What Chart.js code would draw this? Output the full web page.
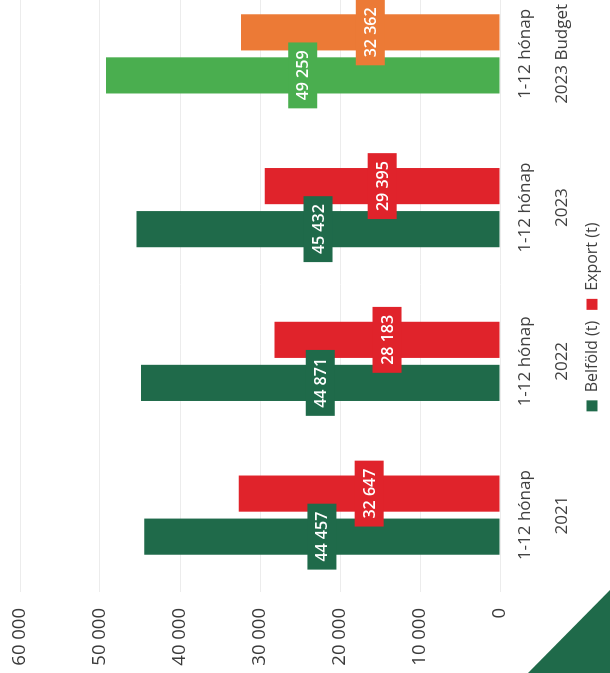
<!DOCTYPE html>
<html>
<head>
<meta charset="utf-8">
<script src="https://cdn.jsdelivr.net/npm/chart.js@4/dist/chart.umd.min.js"></script>
<style>
  html, body { margin: 0; padding: 0; background: #fff; overflow: hidden; }
  body { width: 610px; height: 673px; position: relative; }
  #wrap {
    position: absolute; left: 0; top: 673px;
    width: 700px; height: 610px;
    transform-origin: 0 0;
    transform: rotate(-90deg);
  }
  #corner {
    position: absolute; left: 528px; top: 590px; width: 82px; height: 83px;
    background: #1f6a4a;
    clip-path: polygon(100% 0, 100% 100%, 0 100%);
  }
</style>
</head>
<body>
<div id="wrap"><canvas id="myChart" width="700" height="610"></canvas></div>
<div id="corner"></div>
<script>
const categories = [
    ['1-12 hónap', '2021'],
    ['1-12 hónap', '2022'],
    ['1-12 hónap', '2023'],
    ['1-12 hónap', '2023 Budget']
];
const belfoldValues = [44457, 44871, 45432, 49259];
const exportValues = [32647, 28183, 29395, 32362];
const yTicks = [0, 10000, 20000, 30000, 40000, 50000, 60000];

const belfoldColors = ['#1f6a4a', '#1f6a4a', '#1f6a4a', '#4aae4f'];
const exportColors = ['#e0232b', '#e0232b', '#e0232b', '#ec7a36'];

function fmt(v) {
    return String(v).replace(/\B(?=(\d{3})+(?!\d))/g, ' ');
}

// value boxes in the middle of each bar
const barLabels = {
    id: 'barLabels',
    afterLayout(chart) {
        // legend sits a bit off the canvas centre
        chart.legend.left += 16;
    },
    afterDatasetsDraw(chart) {
        const c = chart.ctx;
        c.save();
        c.font = '600 16px "Open Sans"';
        c.textAlign = 'center';
        c.textBaseline = 'middle';
        chart.data.datasets.forEach((ds, i) => {
            chart.getDatasetMeta(i).data.forEach((bar, j) => {
                const text = fmt(ds.data[j]);
                const w = c.measureText(text).width + 16;
                const h = 29;
                const cy = (bar.y + bar.base) / 2;
                c.fillStyle = ds.backgroundColor[j];
                c.fillRect(bar.x - w / 2, cy - h / 2, w, h);
                c.fillStyle = '#ffffff';
                c.fillText(text, bar.x, cy + 1);
            });
        });
        c.restore();
    }
};

const ctx = document.getElementById('myChart');

new Chart(ctx, {
    type: 'bar',
    data: {
        labels: categories,
        datasets: [{
            label: 'Belföld (t)',
            data: belfoldValues,
            backgroundColor: belfoldColors,
            categoryPercentage: 0.56,
            barPercentage: 0.84
        }, {
            label: 'Export (t)',
            data: exportValues,
            backgroundColor: exportColors,
            categoryPercentage: 0.56,
            barPercentage: 0.84
        }]
    },
    options: {
        responsive: false,
        animation: false,
        layout: {
            padding: {left: 0, right: 4, top: 20, bottom: 0}
        },
        plugins: {
            tooltip: {enabled: false},
            legend: {
                position: 'bottom',
                labels: {
                    boxWidth: 11,
                    boxHeight: 11,
                    padding: 11,
                    color: '#404040',
                    font: {family: '"Open Sans"', size: 16}
                }
            }
        },
        scales: {
            x: {
                grid: {display: false, drawTicks: false},
                border: {display: false},
                ticks: {
                    color: '#404040',
                    padding: 7,
                    font: {family: '"Open Sans"', size: 17, lineHeight: 2.18}
                },
                afterFit: function (scale) {
                    scale.height = 73;
                }
            },
            y: {
                min: 0,
                max: 60000,
                afterBuildTicks: function (scale) {
                    scale.ticks = yTicks.map(v => ({value: v}));
                },
                grid: {color: '#ececec', drawTicks: false},
                border: {display: false},
                ticks: {
                    color: '#3a3a3a',
                    padding: 16,
                    font: {family: '"Open Sans"', size: 18.5},
                    callback: function (value) {
                        return fmt(value);
                    }
                },
                afterFit: function (scale) {
                    scale.width = 81;
                    scale.paddingTop = 0;
                    scale.paddingBottom = 0;
                }
            }
        }
    },
    plugins: [barLabels]
});
</script>
</body>
</html>
